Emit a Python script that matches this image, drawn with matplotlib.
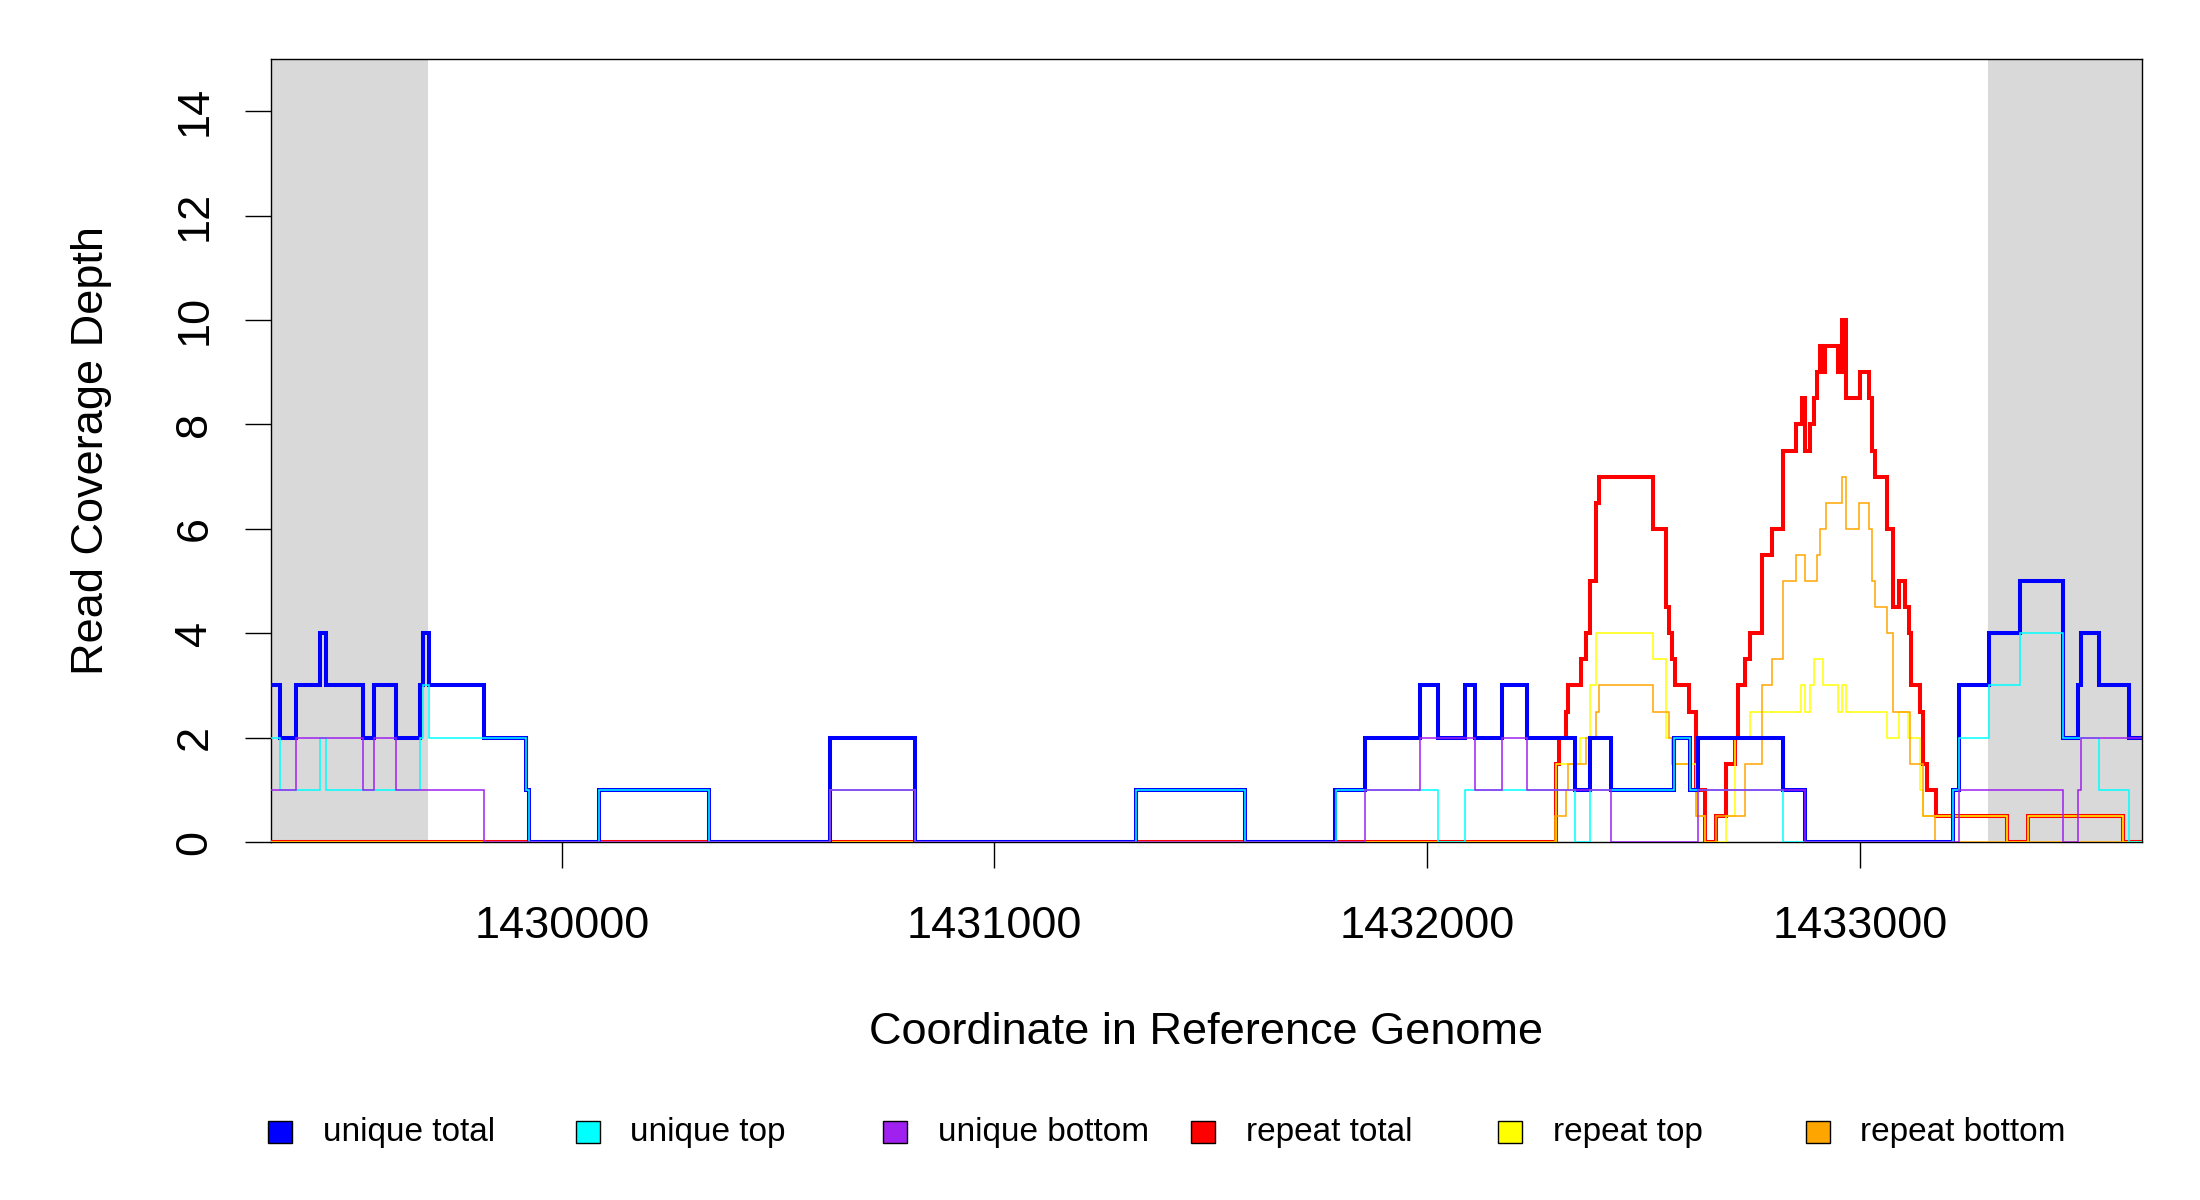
import matplotlib
matplotlib.use("Agg")
import matplotlib.pyplot as plt
from matplotlib.patches import Rectangle

plt.rcParams['font.family'] = ['Liberation Sans', 'DejaVu Sans']

# plotted window and the grey flanking regions
x_min, x_max = 1429328, 1433652
flank_left_end = 1429691
flank_right_start = 1433297

x_ticks = [1430000, 1431000, 1432000, 1433000]
y_ticks = [0, 2, 4, 6, 8, 10, 12, 14]

# each series: positions where the step starts, and the depth from there on
unique_total_x = [1429328, 1429349, 1429385, 1429441, 1429456, 1429540, 1429567, 1429617,
                  1429673, 1429679, 1429694, 1429820, 1429918, 1429925, 1430087, 1430340,
                  1430619, 1430817, 1431326, 1431579, 1431788, 1431857, 1431983, 1432025,
                  1432087, 1432110, 1432172, 1432230, 1432341, 1432376, 1432425, 1432571,
                  1432608, 1432627, 1432823, 1432873, 1433216, 1433230, 1433299, 1433369,
                  1433469, 1433503, 1433510, 1433553, 1433623]
unique_total_y = [3, 2, 3, 4, 3, 2, 3, 2,
                  3, 4, 3, 2, 1, 0, 1, 0,
                  2, 0, 1, 0, 1, 2, 3, 2,
                  3, 2, 3, 2, 1, 2, 1, 2,
                  1, 2, 1, 0, 1, 3, 4, 5,
                  2, 3, 4, 3, 2]

unique_top_x = [1429328, 1429349, 1429441, 1429456, 1429673, 1429679, 1429694, 1429918,
                1429925, 1430087, 1430340, 1430619, 1430817, 1431326, 1431579, 1431790,
                1432025, 1432087, 1432341, 1432376, 1432571, 1432608, 1432823, 1433216,
                1433230, 1433299, 1433369, 1433469, 1433553, 1433623]
unique_top_y = [2, 1, 2, 1, 2, 3, 2, 1,
                0, 1, 0, 1, 0, 1, 0, 1,
                0, 1, 0, 1, 2, 1, 0, 1,
                2, 3, 4, 2, 1, 0]

unique_bottom_x = [1429328, 1429385, 1429540, 1429567, 1429617, 1429820, 1430619, 1430817,
                   1431857, 1431983, 1432110, 1432172, 1432230, 1432425, 1432627, 1432873,
                   1433230, 1433469, 1433503, 1433510]
unique_bottom_y = [1, 2, 1, 2, 1, 0, 1, 0,
                   1, 2, 1, 2, 1, 0, 1, 0,
                   1, 0, 1, 2]

repeat_total_x = [1429328, 1432298, 1432305, 1432320, 1432326, 1432356, 1432367, 1432376,
                  1432390, 1432397, 1432523, 1432551, 1432558, 1432565, 1432573, 1432606,
                  1432621, 1432642, 1432667, 1432690, 1432711, 1432719, 1432734, 1432746,
                  1432774, 1432796, 1432823, 1432852, 1432867, 1432873, 1432884, 1432894,
                  1432900, 1432908, 1432911, 1432914, 1432917, 1432920, 1432950, 1432958,
                  1432969, 1433000, 1433021, 1433029, 1433035, 1433062, 1433077, 1433091,
                  1433104, 1433114, 1433119, 1433139, 1433146, 1433154, 1433175, 1433341,
                  1433389, 1433607]
repeat_total_y = [0, 1.5, 2.0, 2.5, 3.0, 3.5, 4.0, 5.0,
                  6.5, 7.0, 6.0, 4.5, 4.0, 3.5, 3.0, 2.5,
                  1.0, 0, 0.5, 1.5, 2.0, 3.0, 3.5, 4.0,
                  5.5, 6.0, 7.5, 8.0, 8.5, 7.5, 8.0, 8.5,
                  9.0, 9.5, 9.0, 9.5, 9.0, 9.5, 9.0, 10.0,
                  8.5, 9.0, 8.5, 7.5, 7.0, 6.0, 4.5, 5.0,
                  4.5, 4.0, 3.0, 2.5, 1.5, 1.0, 0.5, 0,
                  0.5, 0]

repeat_top_x = [1429328, 1432298, 1432353, 1432376, 1432390, 1432523, 1432551, 1432565,
                1432621, 1432642, 1432690, 1432711, 1432746, 1432865, 1432873, 1432884,
                1432894, 1432915, 1432950, 1432958, 1432969, 1433062, 1433090, 1433112,
                1433139, 1433147, 1433341, 1433389, 1433607]
repeat_top_y = [0, 1.5, 2.0, 3.0, 4.0, 3.5, 2.0, 1.5,
                0.5, 0, 0.5, 2.0, 2.5, 3.0, 2.5, 3.0,
                3.5, 3.0, 2.5, 3.0, 2.5, 2.0, 2.5, 2.0,
                1.0, 0.5, 0, 0.5, 0]

repeat_bottom_x = [1429328, 1432296, 1432320, 1432326, 1432367, 1432390, 1432397, 1432523,
                   1432558, 1432565, 1432606, 1432621, 1432642, 1432667, 1432734, 1432774,
                   1432796, 1432823, 1432852, 1432873, 1432900, 1432908, 1432922, 1432958,
                   1432969, 1432998, 1433021, 1433029, 1433035, 1433062, 1433077, 1433116,
                   1433147, 1433174]
repeat_bottom_y = [0, 0.5, 1.0, 1.5, 2.0, 2.5, 3.0, 2.5,
                   2.0, 1.5, 1.0, 0.5, 0, 0.5, 1.5, 3.0,
                   3.5, 5.0, 5.5, 5.0, 5.5, 6.0, 6.5, 7.0,
                   6.0, 6.5, 6.0, 5.0, 4.5, 4.0, 2.5, 1.5,
                   0.5, 0]

# legend order
series = [
    ("unique total", unique_total_x, unique_total_y, "#0000FF", 2.9),
    ("unique top", unique_top_x, unique_top_y, "#00FFFF", 1.1),
    ("unique bottom", unique_bottom_x, unique_bottom_y, "#A020F0", 1.1),
    ("repeat total", repeat_total_x, repeat_total_y, "#FF0000", 2.9),
    ("repeat top", repeat_top_x, repeat_top_y, "#FFFF00", 1.1),
    ("repeat bottom", repeat_bottom_x, repeat_bottom_y, "#FFA500", 1.1),
]
# repeats are drawn first, unique reads on top of them
draw_order = [3, 4, 5, 0, 1, 2]

fig = plt.figure(figsize=(22, 12), dpi=100)
ax = fig.add_axes([271 / 2200, 0.2983, (2142 - 271) / 2200, 0.9508 - 0.2983])

# grey flanks
ax.axvspan(x_min, flank_left_end, color="#D9D9D9", lw=0, zorder=0)
ax.axvspan(flank_right_start, x_max, color="#D9D9D9", lw=0, zorder=0)

for k, i in enumerate(draw_order):
    name, xs, ys, col, lw = series[i]
    ax.stairs(ys, xs + [x_max], baseline=None, color=col, lw=lw, zorder=2 + k * 0.1)

ax.set_xlim(x_min, x_max)
ax.set_ylim(0, 15)
for s in ax.spines.values():
    s.set_linewidth(1.0)
    s.set_zorder(1)

ax.set_xticks(x_ticks)
ax.set_xticklabels([str(t) for t in x_ticks], fontsize=32.5)
ax.set_yticks(y_ticks)
ax.set_yticklabels([str(t) for t in y_ticks], fontsize=32.5, rotation=90, va="center")
ax.tick_params(axis="x", length=19, width=1.0, pad=27)
ax.tick_params(axis="y", length=19, width=1.0, pad=21)

fig.text((271 + 2142) / 2 / 2200, 1 - 1032 / 1200, "Coordinate in Reference Genome",
         ha="center", va="center", fontsize=32.5)
fig.text(92 / 2200, 1 - 451 / 1200, "Read Coverage Depth",
         ha="center", va="center", rotation=90, fontsize=32.5)

# legend row along the bottom
leg_y = 1 - 1132 / 1200
box_w, box_h = 24 / 2200, 22 / 1200
for i, (name, xs, ys, col, lw) in enumerate(series):
    cx = (280 + i * 307.5) / 2200
    fig.patches.append(Rectangle((cx - box_w / 2, leg_y - box_h / 2), box_w, box_h,
                                 transform=fig.transFigure, facecolor=col,
                                 edgecolor="black", lw=1.0))
    fig.text(cx + 43 / 2200, leg_y, name, ha="left", va="center", fontsize=24)

fig.savefig("out.png", dpi=100)
